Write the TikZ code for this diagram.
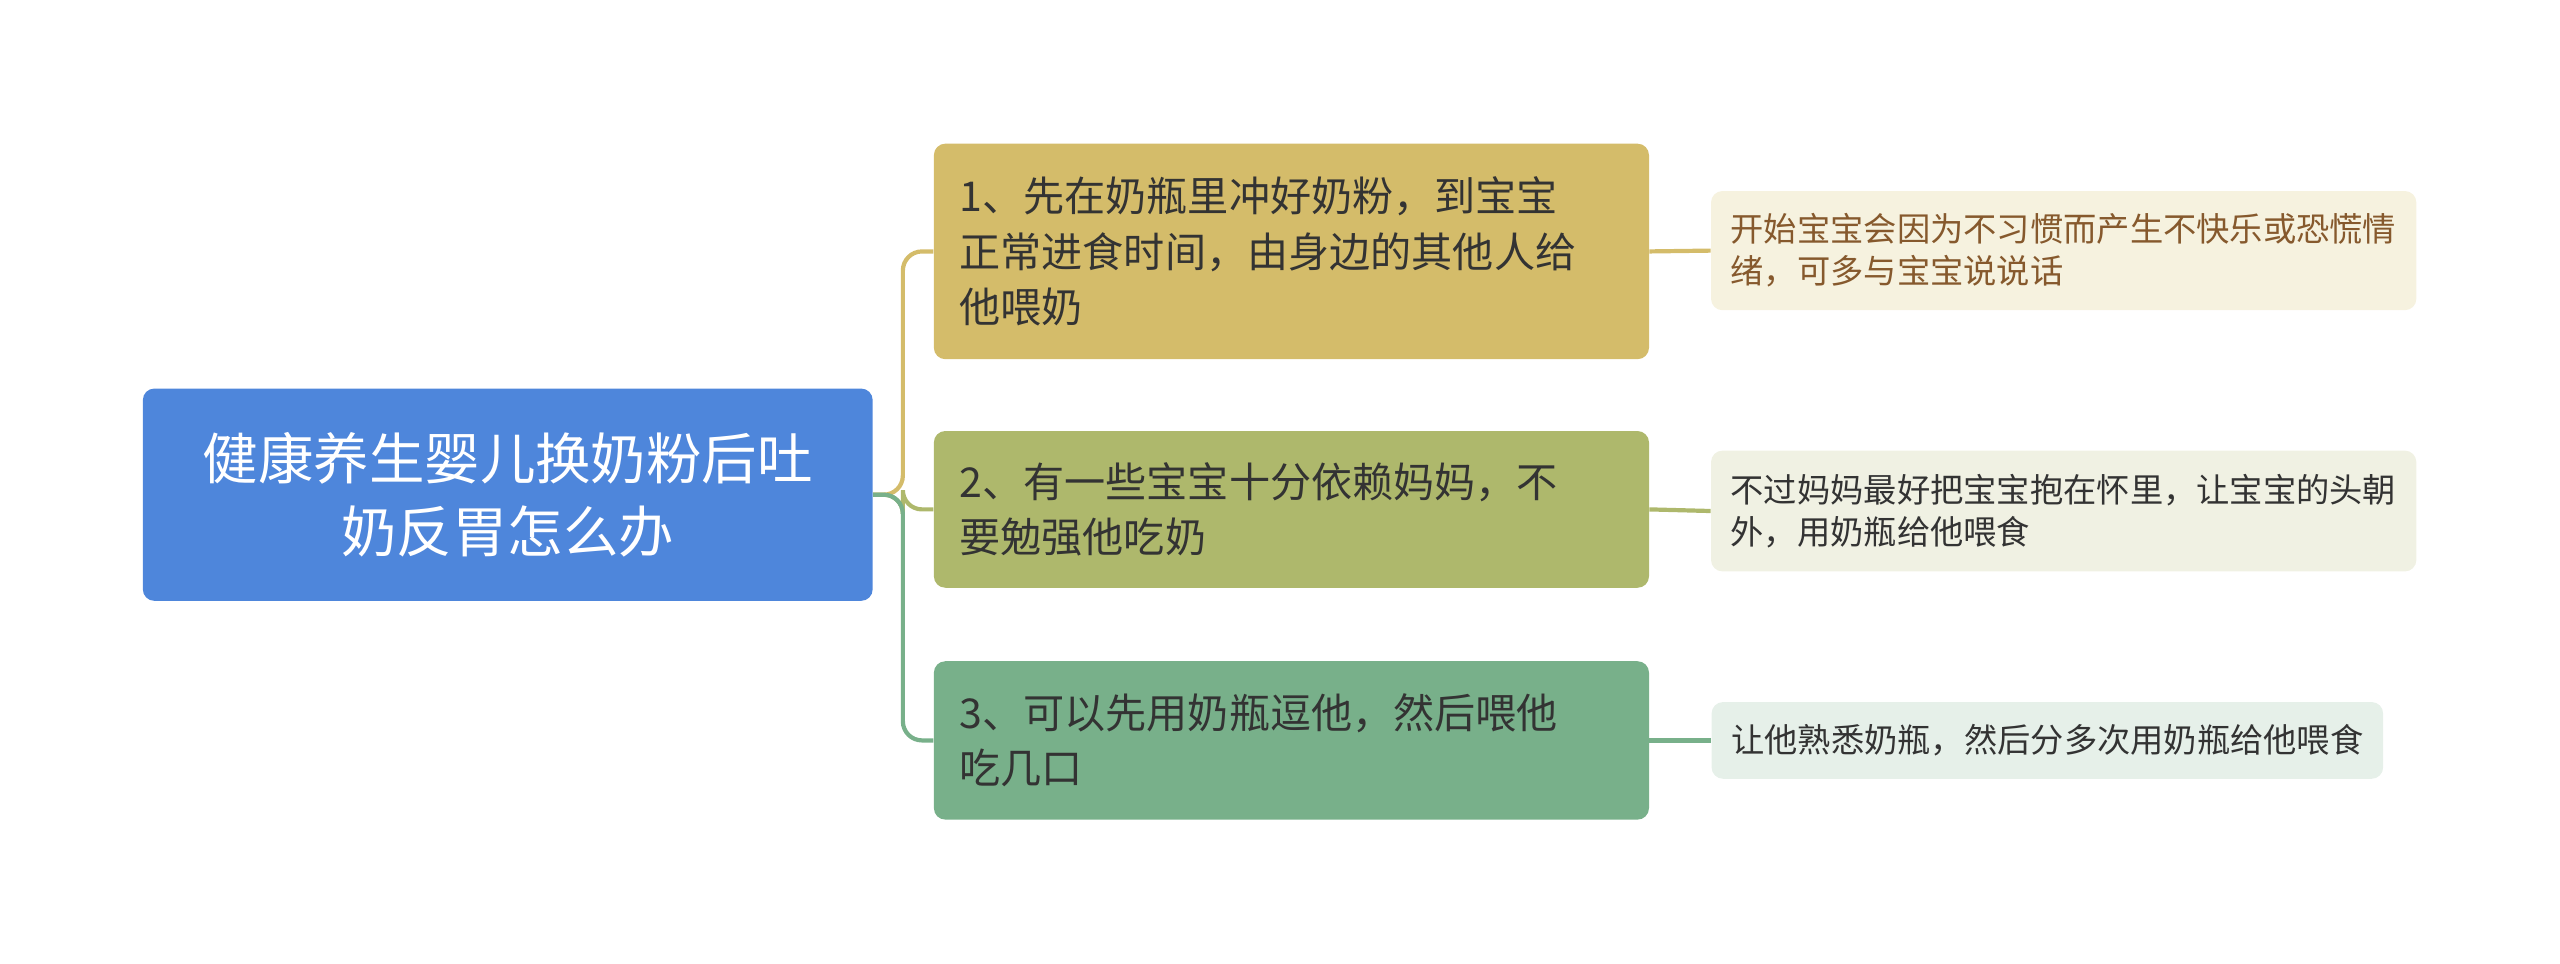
\documentclass[tikz,border=0pt]{standalone}
\usepackage{fontspec}
\setmainfont{Noto Sans CJK SC}
\definecolor{rootBlue}{HTML}{4E86DB}
\definecolor{goldOne}{HTML}{D4BC6A}
\definecolor{oliveTwo}{HTML}{AEB86C}
\definecolor{greenThree}{HTML}{78B08A}
\definecolor{leafOne}{HTML}{F6F2DF}
\definecolor{leafTwo}{HTML}{F0F1E3}
\definecolor{leafThree}{HTML}{E6F0E9}
\definecolor{inkDark}{HTML}{333333}
\tikzset{
  rootbox/.style={fill=rootBlue, rounded corners=6pt, text=white, align=center,
    minimum width=13.41cm, minimum height=3.9cm,
    font=\fontsize{29}{38}\selectfont},
  topicbox/.style={rounded corners=6pt, text=inkDark, align=left, text width=12.2cm,
    minimum width=13.14cm, inner xsep=0.47cm,
    font=\fontsize{21.5}{29}\selectfont},
  leafbox/.style={rounded corners=6pt, align=left, inner xsep=0.36cm,
    minimum height=1.41cm, font=\fontsize{17.4}{22}\selectfont},
  branch/.style={line width=2.2pt, rounded corners=10pt},
}
\begin{document}
\begin{tikzpicture}[x=0.03cm, y=-0.03cm]
  \useasboundingbox (0,0) rectangle (1568,590);
  % Root and main topics.
  \node[rootbox] (root) at (311,303) {健康养生婴儿换奶粉后吐\\奶反胃怎么办};
  \node[topicbox, fill=goldOne, minimum height=3.96cm] (t1) at (791,154)
    {1、先在奶瓶里冲好奶粉，到宝宝\\正常进食时间，由身边的其他人给\\他喂奶};
  \node[topicbox, fill=oliveTwo, minimum height=2.88cm] (t2) at (791,312)
    {2、有一些宝宝十分依赖妈妈，不\\要勉强他吃奶};
  \node[topicbox, fill=greenThree, minimum height=2.91cm] (t3) at (791,453.5)
    {3、可以先用奶瓶逗他，然后喂他\\吃几口};
  % Leaves.
  \node[leafbox, fill=leafOne, text=brown!70!black, text width=12.24cm, minimum height=2.19cm] (l1) at (1264,153.5)
    {开始宝宝会因为不习惯而产生不快乐或恐慌情\\绪，可多与宝宝说说话};
  \node[leafbox, fill=leafTwo, text=inkDark, text width=12.24cm, minimum height=2.22cm] (l2) at (1264,313)
    {不过妈妈最好把宝宝抱在怀里，让宝宝的头朝\\外，用奶瓶给他喂食};
  \node[leafbox, fill=leafThree, text=inkDark] (l3) at (1254,453.5)
    {让他熟悉奶瓶，然后分多次用奶瓶给他喂食};
  % Connectors.
  \coordinate (trunk) at (553,303);
  \draw[branch, goldOne] (root.east) -- (trunk) |- (t1.west);
  \draw[branch, oliveTwo] (root.east) -- (trunk) |- (t2.west);
  \draw[branch, greenThree] (root.east) -- (trunk) |- (t3.west);
  \draw[line width=2.2pt, goldOne] (t1.east) -- (l1.west);
  \draw[line width=2.2pt, oliveTwo] (t2.east) -- (l2.west);
  \draw[line width=2.2pt, greenThree] (t3.east) -- (l3.west);
\end{tikzpicture}
\end{document}
